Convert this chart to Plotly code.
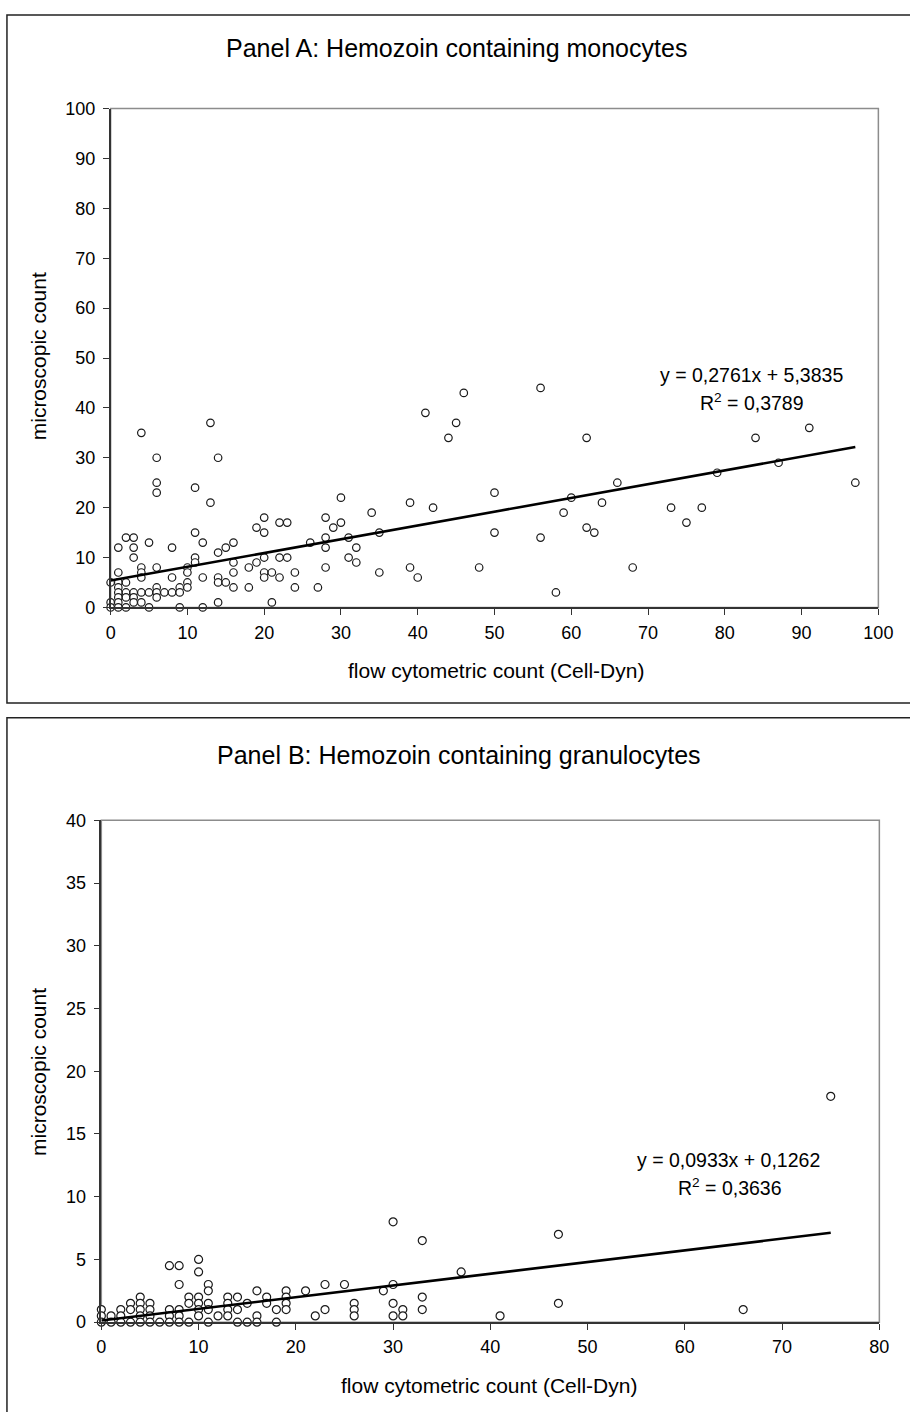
import plotly.graph_objects as go

# ---------------- Data ----------------
# Panel A: Hemozoin containing monocytes
a_x = [0, 0, 0,
       1, 1, 1, 1, 1, 1, 1, 1,
       2, 2, 2, 2, 2,
       3, 3, 3, 3, 3, 3,
       4, 4, 4, 4, 4, 4,
       5, 5, 5,
       6, 6, 6, 6, 6, 6, 6,
       7,
       8, 8, 8,
       9, 9, 9,
       10, 10, 10, 10,
       11, 11, 11, 11,
       12, 12, 12,
       13, 13,
       14, 14, 14, 14, 14,
       15, 15,
       16, 16, 16, 16,
       18, 18,
       19, 19,
       20, 20, 20, 20, 20,
       21, 21,
       22, 22, 22,
       23, 23,
       24, 24,
       26, 27,
       28, 28, 28, 28,
       29, 30, 30, 31, 31, 32, 32, 34, 35, 35, 39, 39, 40, 41, 42, 44, 45, 46, 48,
       50, 50, 56, 56, 58, 59, 60, 62, 62, 63, 64, 66, 68, 73, 75, 77, 79, 84, 87, 91, 97]
a_y = [5, 1, 0,
       12, 7, 5, 4, 3, 2, 1, 0,
       14, 5, 3, 2, 0,
       14, 12, 10, 3, 2, 1,
       35, 8, 7, 6, 3, 1,
       13, 3, 0,
       30, 25, 23, 8, 4, 3, 2,
       3,
       12, 6, 3,
       4, 3, 0,
       8, 7, 5, 4,
       24, 15, 10, 9,
       13, 6, 0,
       37, 21,
       30, 11, 6, 5, 1,
       12, 5,
       13, 9, 7, 4,
       8, 4,
       16, 9,
       18, 15, 10, 7, 6,
       7, 1,
       17, 10, 6,
       17, 10,
       7, 4,
       13, 4,
       18, 14, 12, 8,
       16, 22, 17, 14, 10, 12, 9, 19, 15, 7, 21, 8, 6, 39, 20, 34, 37, 43, 8,
       23, 15, 44, 14, 3, 19, 22, 34, 16, 15, 21, 25, 8, 20, 17, 20, 27, 34, 29, 36, 25]
a_slope, a_intercept = 0.2761, 5.3835
a_eq = "y = 0,2761x + 5,3835"
a_r2 = "R<sup>2</sup> = 0,3789"

# Panel B: Hemozoin containing granulocytes
b_x = [0, 0, 0,
       1, 1,
       2, 2, 2,
       3, 3, 3,
       4, 4, 4, 4, 4,
       5, 5, 5, 5,
       6,
       7, 7, 7, 7,
       8, 8, 8, 8, 8,
       9, 9, 9,
       10, 10, 10, 10, 10, 10,
       11, 11, 11, 11, 11,
       12,
       13, 13, 13, 13,
       14, 14, 14,
       15, 15,
       16, 16, 16,
       17, 17,
       18, 18,
       19, 19, 19, 19,
       21, 22, 23, 23, 25,
       26, 26, 26, 29,
       30, 30, 30, 30,
       31, 31,
       33, 33, 33,
       37, 41, 47, 47, 66, 75]
b_y = [1, 0.5, 0,
       0.5, 0,
       1, 0.5, 0,
       1.5, 1, 0,
       2, 1.5, 1, 0.5, 0,
       1.5, 1, 0.5, 0,
       0,
       4.5, 1, 0.5, 0,
       4.5, 3, 1, 0.5, 0,
       2, 1.5, 0,
       5, 4, 2, 1.5, 1, 0.5,
       3, 2.5, 1.5, 1, 0,
       0.5,
       2, 1.5, 1, 0.5,
       2, 1, 0,
       1.5, 0,
       2.5, 0.5, 0,
       2, 1.5,
       1, 0,
       2.5, 2, 1.5, 1,
       2.5, 0.5, 3, 1, 3,
       1.5, 1, 0.5, 2.5,
       8, 3, 1.5, 0.5,
       1, 0.5,
       6.5, 2, 1,
       4, 0.5, 7, 1.5, 1, 18]
b_slope, b_intercept = 0.0933, 0.1262
b_eq = "y = 0,0933x + 0,1262"
b_r2 = "R<sup>2</sup> = 0,3636"

titles = ["Panel A: Hemozoin containing monocytes",
          "Panel B: Hemozoin containing granulocytes"]
x_title = "flow cytometric count (Cell-Dyn)"
y_title = "microscopic count"

# ---------------- Figure ----------------
W, H = 910, 1412
FONT = "Liberation Sans, Arial, Helvetica, sans-serif"


def px(x):
    return x / W


def py(y):
    return 1 - y / H


fig = go.Figure()

marker = dict(symbol="circle", size=7.5, color="white",
              line=dict(color="#1a1a1a", width=1.2))

fig.add_trace(go.Scatter(x=a_x, y=a_y, mode="markers", marker=marker,
                         cliponaxis=False, xaxis="x", yaxis="y", showlegend=False))
a_lx = [min(a_x), max(a_x)]
fig.add_trace(go.Scatter(x=a_lx, y=[a_slope * v + a_intercept for v in a_lx],
                         mode="lines", line=dict(color="black", width=2.6),
                         xaxis="x", yaxis="y", showlegend=False))

fig.add_trace(go.Scatter(x=b_x, y=b_y, mode="markers", marker=dict(marker, size=8),
                         cliponaxis=False, xaxis="x2", yaxis="y2", showlegend=False))
b_lx = [min(b_x), max(b_x)]
fig.add_trace(go.Scatter(x=b_lx, y=[b_slope * v + b_intercept for v in b_lx],
                         mode="lines", line=dict(color="black", width=2.6),
                         xaxis="x2", yaxis="y2", showlegend=False))

axis_common = dict(showline=True, linecolor="#333333", linewidth=1.5,
                   ticks="outside", ticklen=6, tickwidth=1.3, tickcolor="#333333",
                   showgrid=False, zeroline=False, ticklabeloverflow="allow",
                   tickfont=dict(family=FONT, size=18, color="black"))
xaxis_common = dict(axis_common, ticklabelstandoff=2)
yaxis_common = dict(axis_common, ticklabelstandoff=4)

fig.update_layout(
    width=W, height=H,
    margin=dict(l=0, r=0, t=0, b=0),
    paper_bgcolor="white", plot_bgcolor="white",
    font=dict(family=FONT, color="black"),
    xaxis=dict(xaxis_common, domain=[px(108), px(893)], range=[0, 100],
               dtick=10, tick0=0, anchor="y"),
    yaxis=dict(yaxis_common, domain=[py(606), py(100)], range=[0, 100],
               dtick=10, tick0=0, anchor="x"),
    xaxis2=dict(xaxis_common, domain=[px(98.5), px(894)], range=[0, 80],
                dtick=10, tick0=0, anchor="y2"),
    yaxis2=dict(yaxis_common, domain=[py(1331), py(822)], range=[0, 40],
                dtick=5, tick0=0, anchor="x2"),
)

shapes = [
    # outer frames
    dict(type="rect", xref="paper", yref="paper", x0=px(2), x1=1.02,
         y0=py(703), y1=py(5), line=dict(color="#222222", width=1.5)),
    dict(type="rect", xref="paper", yref="paper", x0=px(2), x1=1.02,
         y0=-0.02, y1=py(718), line=dict(color="#222222", width=1.5)),
    # grey plot-area borders
    dict(type="rect", xref="x domain", yref="y domain", x0=0, x1=1, y0=0, y1=1,
         line=dict(color="#8c8c8c", width=1.5), layer="below"),
    dict(type="rect", xref="x2 domain", yref="y2 domain", x0=0, x1=1, y0=0, y1=1,
         line=dict(color="#8c8c8c", width=1.5), layer="below"),
]
fig.update_layout(shapes=shapes)

ann = []


def add_text(text, x, y, size, angle=0):
    ann.append(dict(text=text, x=px(x), y=py(y), xref="paper", yref="paper",
                    xanchor="center", yanchor="middle", showarrow=False,
                    textangle=angle, font=dict(family=FONT, size=size, color="black")))


add_text(titles[0], 462, 39, 25)
add_text(y_title, 34, 351, 21, -90)
add_text(x_title, 502, 670, 21)
add_text(a_eq, 763, 370.5, 19.5)
add_text(a_r2, 764, 398, 19.5)

add_text(titles[1], 464, 756, 25)
add_text(y_title, 34, 1077, 21, -90)
add_text(x_title, 495, 1395, 21)
add_text(b_eq, 740, 1167, 19.5)
add_text(b_r2, 741, 1194, 19.5)

fig.update_layout(annotations=ann)

fig.write_html("out.html",
               config={"displayModeBar": False},
               post_script="document.body.style.margin='0';"
                           "document.body.style.overflow='hidden';")
